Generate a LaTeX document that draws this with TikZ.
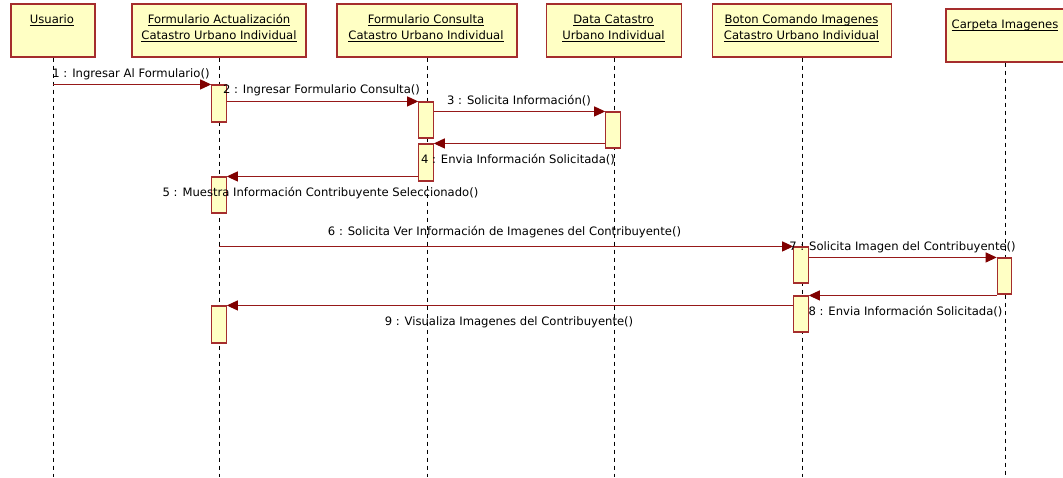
\documentclass[tikz,border=0pt]{standalone}
\usepackage{fontspec}
\setmainfont{DejaVu Sans}
\usetikzlibrary{arrows.meta,calc}
\definecolor{boxfill}{RGB}{255,255,196}
\definecolor{boxline}{RGB}{165,45,45}
\definecolor{msgline}{RGB}{150,25,25}
\definecolor{tipred}{RGB}{128,0,0}
% underlined title line
\newcommand{\hdrline}[1]{\setbox0\hbox{#1}\rlap{\rule[-2pt]{\wd0}{0.6pt}}\box0}
\begin{document}
\begin{tikzpicture}[x=1pt,y=-1pt,
  txt/.style={font=\fontsize{11.6}{16}\selectfont},
  head/.style={draw=boxline, fill=boxfill, line width=1.2pt, minimum height=53pt, inner sep=0pt},
  act/.style={draw=boxline, fill=boxfill, line width=1.1pt, minimum width=14.5pt, inner sep=0pt},
  life/.style={draw=black, line width=0.7pt, dash pattern=on 4pt off 4pt},
  msg/.style={draw=msgline, line width=1pt, -{Triangle[length=11pt,width=10pt,color=tipred]}},
  lbl/.style={txt, anchor=base, inner sep=0pt},
]
\useasboundingbox[fill=white] (0,0) rectangle (1063,477);
\coordinate (bot) at (0,477);

% object heads
\node[head, minimum width=84pt]  (u)  at (53,30.5) {};
\node[head, minimum width=174pt] (fa) at (219,30.5) {};
\node[head, minimum width=180pt] (fc) at (427,30.5) {};
\node[head, minimum width=135pt] (d)  at (614,30.5) {};
\node[head, minimum width=179pt] (b)  at (802,30.5) {};
\node[head, minimum width=118pt] (c)  at (1005,35.5) {};

\node[lbl] (u-t)  at (52,23.5)  {\hdrline{Usuario}};
\node[lbl] (fa-t) at (219,23.5) {\hdrline{Formulario Actualización}};
\node[lbl] (fa-s) at (219,39.5) {\hdrline{Catastro Urbano Individual}};
\node[lbl] (fc-t) at (426,23.5) {\hdrline{Formulario Consulta}};
\node[lbl] (fc-s) at (426,39.5) {\hdrline{Catastro Urbano Individual}};
\node[lbl] (d-t)  at (613.5,23.5) {\hdrline{Data Catastro}};
\node[lbl] (d-s)  at (613.5,39.5) {\hdrline{Urbano Individual}};
\node[lbl] (b-t)  at (801.5,23.5) {\hdrline{Boton Comando Imagenes}};
\node[lbl] (b-s)  at (801.5,39.5) {\hdrline{Catastro Urbano Individual}};
\node[lbl] (c-t)  at (1005,28.5) {\hdrline{Carpeta Imagenes}};

% lifelines
\foreach \o in {u,fa,fc,d,b,c}
  \draw[life] (\o.south) -- (\o.south |- bot);

% activations
\node[act, minimum height=37pt] (fa1) at (219,103.5) {};
\node[act, minimum height=36pt] (fc1) at (426,120) {};
\node[act, minimum height=36pt] (d1)  at (613,130) {};
\node[act, minimum height=37pt] (fc2) at (426,162.5) {};
\node[act, minimum height=36pt] (fa2) at (219,195) {};
\node[act, minimum height=36pt] (b1)  at (801,265) {};
\node[act, minimum height=36pt] (c1)  at (1004.5,276) {};
\node[act, minimum height=36pt] (b2)  at (801,314) {};
\node[act, minimum height=37pt] (fa3) at (219,324.5) {};

% messages
\draw[msg] (u.south |- fa1.north) -- (fa1.north west);
\draw[msg] (fa1.east |- fc1.north) -- (fc1.north west);
\draw[msg] (fc1.east |- d1.north) -- (d1.north west);
\draw[msg] (d1.west |- fc2.north) -- (fc2.north east);
\draw[msg] (fc2.west |- fa2.north) -- (fa2.north east);
\draw[msg] (fa.south |- b1.north) -- (b1.north west);
\draw[msg] (b1.east |- c1.north) -- (c1.north west);
\draw[msg] (c1.west |- b2.north) -- (b2.north east);
\draw[msg] (b2.west |- fa3.north) -- (fa3.north east);

% message labels
\node[lbl] (m1) at (131,77)   {1 : Ingresar Al Formulario()};
\node[lbl] (m2) at (321.5,93) {2 : Ingresar Formulario Consulta()};
\node[lbl] (m3) at (519,104)  {3 : Solicita Información()};
\node[lbl] (m4) at (518,163)  {4 : Envia Información Solicitada()};
\node[lbl] (m5) at (320.5,196) {5 : Muestra Información Contribuyente Seleccionado()};
\node[lbl] (m6) at (504.5,235) {6 : Solicita Ver Información de Imagenes del Contribuyente()};
\node[lbl] (m7) at (902.5,250) {7 : Solicita Imagen del Contribuyente()};
\node[lbl] (m8) at (905.5,315) {8 : Envia Información Solicitada()};
\node[lbl] (m9) at (509,325)  {9 : Visualiza Imagenes del Contribuyente()};
\end{tikzpicture}
\end{document}
